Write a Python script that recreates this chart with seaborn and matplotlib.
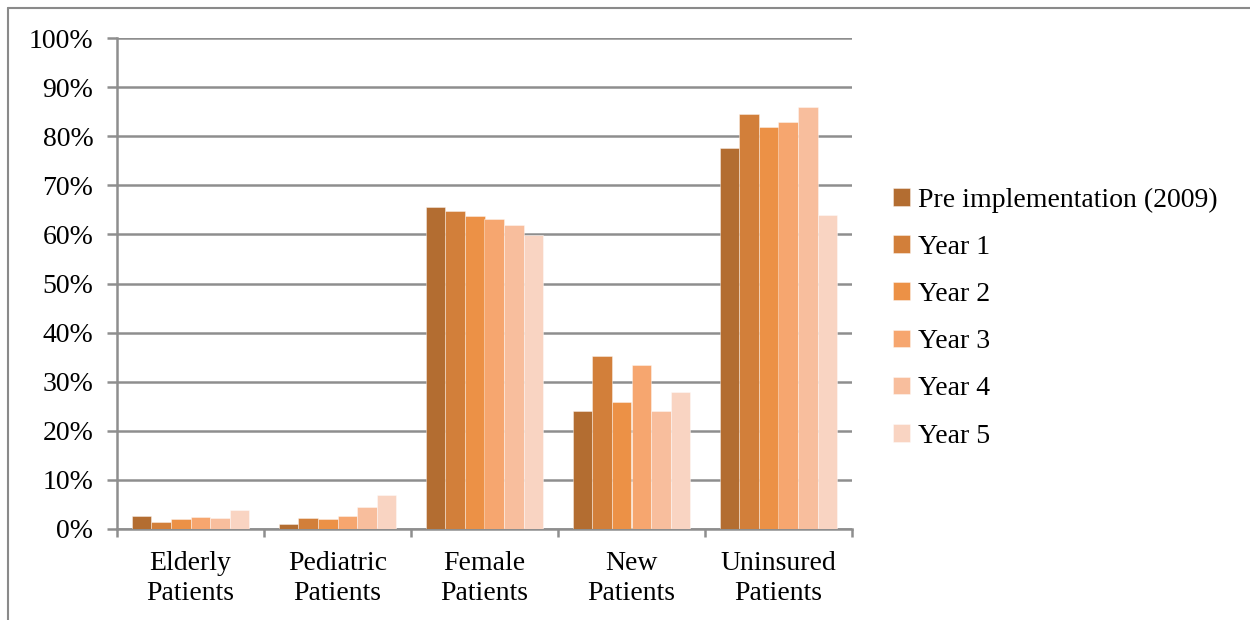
import matplotlib
matplotlib.use("Agg")
import matplotlib.pyplot as plt
from matplotlib.lines import Line2D
from matplotlib.ticker import FixedLocator, PercentFormatter
import seaborn as sns
import pandas as pd

# Patient groups (x axis) and measurement periods (bar series)
categories = ["Elderly\nPatients", "Pediatric\nPatients", "Female\nPatients",
              "New\nPatients", "Uninsured\nPatients"]
periods = ["Pre implementation (2009)", "Year 1", "Year 2", "Year 3", "Year 4", "Year 5"]

# Share of visits (%) for each period, listed in category order
pre_2009 = [2.7, 1.0, 65.6, 24.0, 77.6]
year_1 = [1.5, 2.3, 64.8, 35.2, 84.6]
year_2 = [2.1, 2.1, 63.7, 25.9, 81.8]
year_3 = [2.5, 2.7, 63.1, 33.5, 82.9]
year_4 = [2.3, 4.5, 61.9, 24.0, 85.9]
year_5 = [3.9, 7.0, 59.9, 28.0, 64.0]

series = [pre_2009, year_1, year_2, year_3, year_4, year_5]
colors = ["#B36D31", "#D27F3A", "#EC9146", "#F6A66F", "#F8BE9D", "#F9D4C2"]

rows = []
for period, vals in zip(periods, series):
    for cat, v in zip(categories, vals):
        rows.append({"category": cat, "period": period, "value": v})
df = pd.DataFrame(rows)

sns.set_style("white")
plt.rcParams["font.family"] = ["Liberation Serif", "DejaVu Serif"]
plt.rcParams["text.color"] = "black"

FS = 20
W, H = 1250, 620
fig = plt.figure(figsize=(W / 100, H / 100), dpi=100)
ax = fig.add_axes([117 / W, 1 - 529 / H, (852 - 117) / W, (529 - 38) / H])

grid_c = "#8E8E8E"
sns.barplot(data=df, x="category", y="value", hue="period", order=categories,
            hue_order=periods, palette=colors, width=0.8, saturation=1,
            edgecolor=(1, 1, 1, 0.4), linewidth=0.7, ax=ax, legend=True, zorder=3)

ax.set_ylim(0, 100)
ax.set_xlim(-0.5, len(categories) - 0.5)
ax.set_yticks(range(0, 101, 10))
ax.yaxis.set_major_formatter(PercentFormatter(decimals=0))
ax.yaxis.grid(True, color=grid_c, linewidth=1.8, zorder=0)
ax.set_axisbelow(True)
ax.set_xlabel("")
ax.set_ylabel("")

for side in ["top", "right"]:
    ax.spines[side].set_visible(False)
for side in ["left", "bottom"]:
    ax.spines[side].set_color(grid_c)
    ax.spines[side].set_linewidth(1.8)

ax.tick_params(axis="y", which="major", length=7, width=1.8, color=grid_c,
               pad=10, labelsize=FS, labelcolor="black", left=True)
ax.tick_params(axis="x", which="major", length=0, pad=16, labelsize=FS,
               labelcolor="black")
ax.xaxis.set_minor_locator(FixedLocator([i - 0.5 for i in range(len(categories) + 1)]))
ax.tick_params(axis="x", which="minor", length=6, width=1.8, color=grid_c, bottom=True)
for lbl in ax.get_xticklabels():
    lbl.set_linespacing(1.25)

# Legend to the right of the plot area
handles, labels = ax.get_legend_handles_labels()
ax.get_legend().remove()
fig.legend(handles, labels, loc="center left",
           bbox_to_anchor=(893 / W, 1 - 318 / H), frameon=False, fontsize=FS,
           handlelength=0.6, handleheight=0.6, handletextpad=0.3,
           labelspacing=0.8, borderaxespad=0, borderpad=0)

# Thin frame along the top and left edges of the figure
fig.add_artist(Line2D([7.5 / W, 1], [1 - 7.5 / H, 1 - 7.5 / H], color="#8A8A8A",
                      linewidth=1.5, transform=fig.transFigure))
fig.add_artist(Line2D([7.5 / W, 7.5 / W], [0, 1 - 7.5 / H], color="#8A8A8A",
                      linewidth=1.5, transform=fig.transFigure))

fig.savefig("out.png", dpi=100, facecolor="white")
